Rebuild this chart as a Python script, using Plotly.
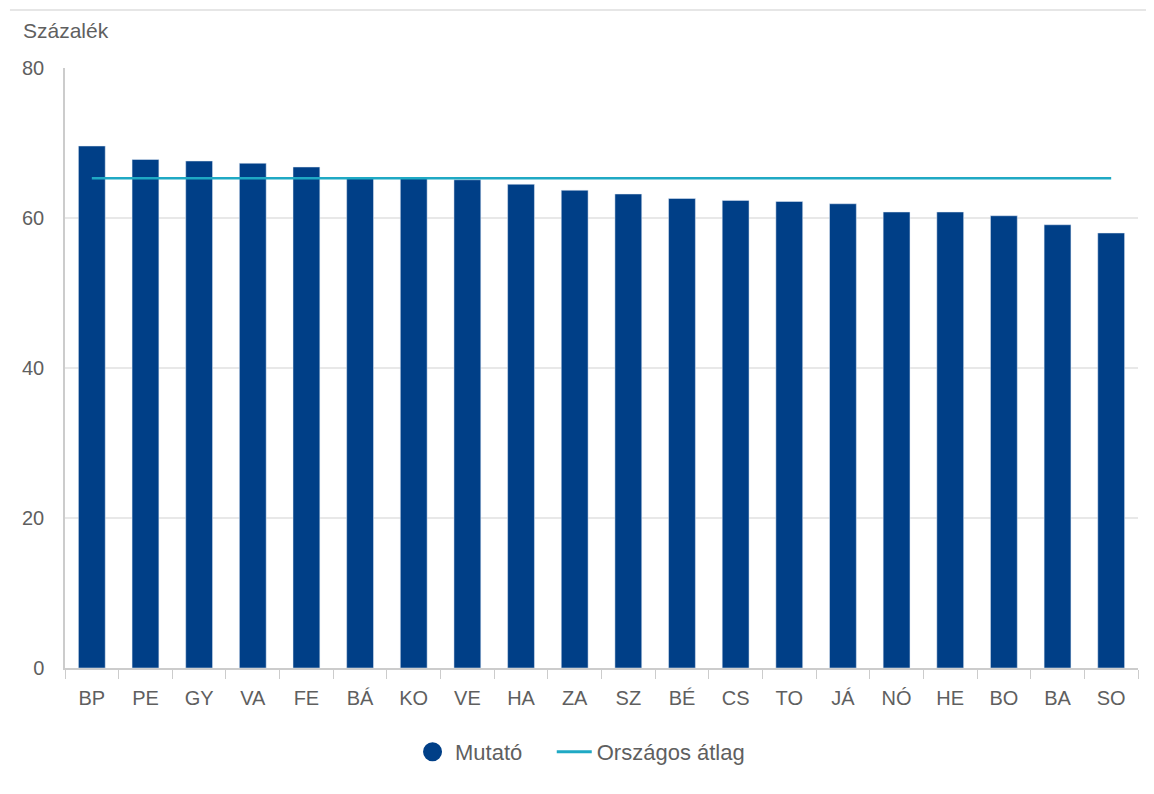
import plotly.graph_objects as go

categories = ["BP", "PE", "GY", "VA", "FE", "BÁ", "KO", "VE", "HA", "ZA",
              "SZ", "BÉ", "CS", "TO", "JÁ", "NÓ", "HE", "BO", "BA", "SO"]
mutato = [69.6, 67.8, 67.6, 67.3, 66.8, 65.3, 65.3, 65.1, 64.5, 63.7,
          63.2, 62.6, 62.35, 62.2, 61.9, 60.8, 60.8, 60.3, 59.1, 58.0]
orszagos_atlag = 65.3
y_ticks = [0, 20, 40, 60, 80]

BAR_COLOR = "#003f87"
LINE_COLOR = "#1fa9c4"
TEXT_COLOR = "#5f5f5f"

fig = go.Figure()
fig.add_trace(go.Bar(x=categories, y=mutato, marker_color=BAR_COLOR,
                     width=0.5, showlegend=False, name="Mutató"))
fig.add_trace(go.Scatter(x=categories, y=[orszagos_atlag] * len(categories),
                         mode="lines", line=dict(color=LINE_COLOR, width=2.5),
                         showlegend=False, name="Országos átlag"))
# legend entries
fig.add_trace(go.Scatter(x=[None], y=[None], mode="markers",
                         name="Mutató" + "\u00a0" * 4,
                         marker=dict(symbol="circle", size=22, color=BAR_COLOR,
                                     line=dict(color=BAR_COLOR, width=3))))
fig.add_trace(go.Scatter(x=[None], y=[None], mode="lines", name="Országos átlag",
                         line=dict(color=LINE_COLOR, width=3)))

fig.update_layout(
    width=1154, height=794,
    margin=dict(l=57, r=24, t=60, b=134),
    paper_bgcolor="white", plot_bgcolor="white",
    font=dict(family="Liberation Sans, Arial", size=20, color=TEXT_COLOR),
    bargap=0.5,
    legend=dict(orientation="h", x=0.48, xanchor="center", y=-0.14, yanchor="middle",
                font=dict(size=22, color=TEXT_COLOR), itemwidth=35,
                traceorder="normal"),
    xaxis=dict(showgrid=False, showline=True, linecolor="#cccccc", linewidth=1.5,
               ticks="outside", tickson="boundaries", ticklen=9, tickcolor="#cccccc",
               ticklabelstandoff=11,
               tickfont=dict(size=20, color=TEXT_COLOR)),
    yaxis=dict(range=[0, 80], tickvals=y_ticks, showgrid=True, gridcolor="#e8e8e8",
               gridwidth=1.5, showline=True, linecolor="#cccccc", linewidth=1.5,
               zeroline=False, ticks="", ticklabelstandoff=15,
               tickfont=dict(size=20, color=TEXT_COLOR)),
    shapes=[dict(type="line", xref="paper", yref="paper",
                 x0=-0.0513, x1=1.03, y0=1.0967, y1=1.0967,
                 line=dict(color="#e6e6e6", width=2))],
    annotations=[dict(text="Százalék", xref="paper", yref="paper",
                      x=-0.041, y=1.063, xanchor="left", yanchor="middle",
                      showarrow=False, font=dict(size=21, color=TEXT_COLOR))],
)

fig.write_html("out.html")
